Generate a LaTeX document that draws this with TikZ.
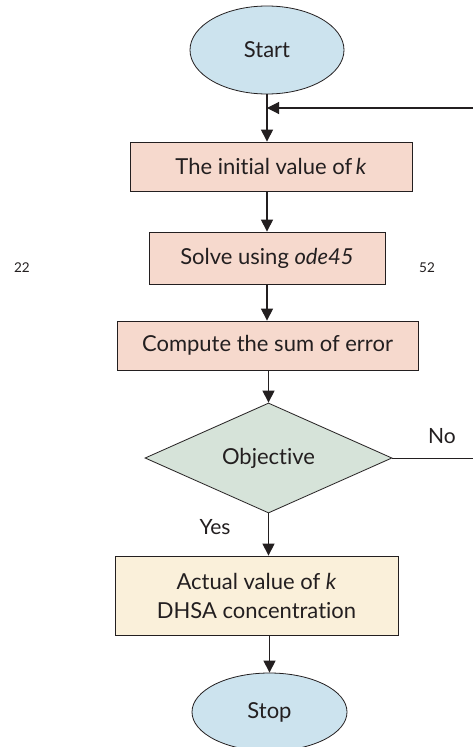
\documentclass[tikz,border=0pt]{standalone}
\usepackage{fontspec}
\setmainfont[Ligatures={NoCommon,NoRare},Contextuals=NoAlternate]{Lato}
\usetikzlibrary{arrows.meta,shapes.geometric}
\definecolor{startblue}{HTML}{CCE3EE}
\definecolor{boxpink}{HTML}{F6D9CD}
\definecolor{diagreen}{HTML}{D6E3D9}
\definecolor{boxcream}{HTML}{FAF0DA}
\definecolor{txt}{HTML}{231F20}
\tikzset{
  every node/.style={text=txt},
  term/.style={ellipse, draw=txt, line width=0.8pt, fill=startblue, minimum width=154pt, minimum height=88pt, inner sep=0pt, font=\fontsize{22}{26}\selectfont},
  procbox/.style={rectangle, draw=txt, line width=0.8pt, fill=boxpink, inner sep=0pt, font=\fontsize{22}{26}\selectfont},
  decide/.style={diamond, draw=txt, line width=0.8pt, fill=diagreen, inner sep=0pt, minimum width=247pt, minimum height=110pt, aspect=2.245, font=\fontsize{22}{26}\selectfont},
  resbox/.style={rectangle, draw=txt, line width=0.8pt, fill=boxcream, inner sep=0pt, align=center, font=\fontsize{22}{29}\selectfont},
  conn/.style={draw=txt, line width=1.1pt, -{Triangle[length=12pt,width=12pt]}},
  plain/.style={draw=txt, line width=0.8pt},
  lbl/.style={font=\fontsize{21}{24}\selectfont},
  small/.style={font=\fontsize{13.5}{16}\selectfont}
}
\begin{document}
\begin{tikzpicture}[x=1pt,y=-1pt]
\useasboundingbox (0,0) rectangle (473,747);
\clip (0,0) rectangle (473,747);
\fill[white] (0,0) rectangle (473,747);
\node[term] (start) at (267,50) {Start};
\node[procbox, minimum width=282pt, minimum height=49pt] (init) at (271,166.5) {The initial value of\,\textit{k}};
\node[procbox, minimum width=236pt, minimum height=52pt] (solve) at (267,258) {Solve using \textit{ode45}};
\node[procbox, minimum width=301pt, minimum height=49pt] (comp) at (267.5,345.5) {Compute the sum of error};
\node[decide] (obj) at (268.5,458) {Objective};
\node[resbox, minimum width=283pt, minimum height=79pt] (res) at (256.5,595.5) {Actual value of \textit{k}\\ DHSA concentration};
\node[term, minimum width=155pt, minimum height=78pt] (stop) at (269.5,712) {Stop};
\node[small] (n22) at (22,268) {22};
\node[small] (n52) at (427,268) {52};
\node[lbl] (no) at (442,436) {No};
\node[lbl] (yes) at (215,527) {Yes};
\coordinate (fbin) at (473,108);
\coordinate (fbj) at (267,108);
\coordinate (noend) at (473,458);
\draw[conn] (start.south) -- (start.south |- init.north);
\draw[conn] (fbin) -- (fbj);
\draw[conn] (init.south -| solve.north) -- (solve.north);
\draw[conn] (solve.south) -- (solve.south |- comp.north);
\draw[conn] (comp.south -| obj.north) -- (obj.north);
\draw[conn] (obj.south) -- (obj.south |- res.north);
\draw[conn] (res.south -| stop.north) -- (stop.north);
\draw[plain] (obj.east) -- (noend);
\end{tikzpicture}
\end{document}
